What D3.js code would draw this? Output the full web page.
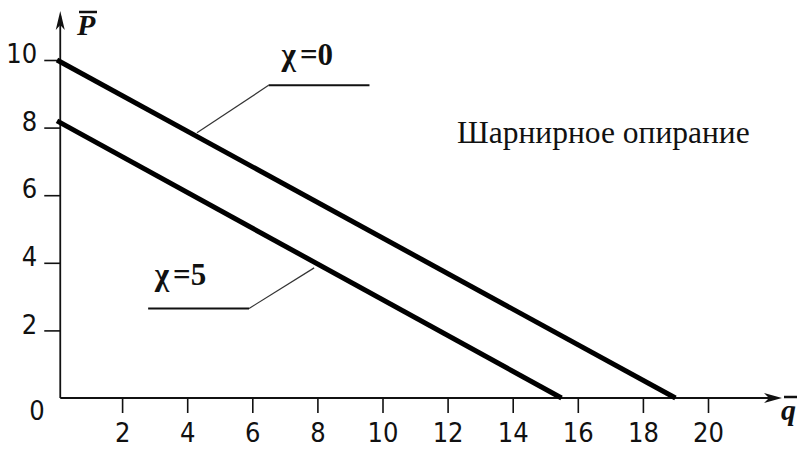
<!DOCTYPE html>
<html>
<head>
<meta charset="utf-8">
<script src="https://cdn.jsdelivr.net/npm/d3@7"></script>
<style>
  body { margin: 0; background: #fff; }
  .tick text { font-family: "Liberation Sans Narrow", "DejaVu Sans Condensed", sans-serif; font-size: 27px; fill: #111; }
</style>
</head>
<body>
<div class="chart"></div>
<script>
// curves P(q)
var chi0Q = [0, 19], chi0P = [10, 0];
var chi5Q = [0, 15.5], chi5P = [8.2, 0];

var xTicks = [2, 4, 6, 8, 10, 12, 14, 16, 18, 20];
var yTicks = [2, 4, 6, 8, 10];

// annotation leaders, in data units: [start, elbow, end]
var lead0Q = [4.3, 6.5, 9.6], lead0P = [7.85, 9.25, 9.25];
var lead5Q = [7.9, 5.9, 2.8], lead5P = [3.85, 2.65, 2.65];

var width = 808, height = 451;

var svg = d3.select(".chart")
    .append("svg")
    .attr("width", width)
    .attr("height", height);

var x = d3.scaleLinear().domain([0, 20]).range([57, 708]);
var y = d3.scaleLinear().domain([0, 10]).range([398, 60]);

// X axis
var xAxis = svg.append("g")
    .attr("transform", "translate(0," + y(0) + ")")
    .call(d3.axisBottom(x).tickValues(xTicks).tickSize(15).tickPadding(10));

// Y axis
var yAxis = svg.append("g")
    .attr("transform", "translate(" + x(0.1) + ",0)")
    .call(d3.axisLeft(y).tickValues(yTicks).tickSize(16).tickPadding(7));

xAxis.select(".domain").remove();
yAxis.select(".domain").remove();
xAxis.selectAll("line").style("stroke", "#111").style("stroke-width", 1.6);
yAxis.selectAll("line").style("stroke", "#111").style("stroke-width", 1.6);
yAxis.selectAll("text").attr("dy", "0.1em");

svg.append("text")
    .attr("x", 37).attr("y", 420)
    .attr("text-anchor", "middle")
    .style("font-family", "'Liberation Sans Narrow', 'DejaVu Sans Condensed', sans-serif")
    .style("font-size", "27px").style("fill", "#111")
    .text("0");

// axis lines with arrows
var x0 = x(0.1);
svg.append("line")
    .attr("x1", x0).attr("y1", y(0))
    .attr("x2", 778).attr("y2", y(0))
    .style("stroke", "#111").style("stroke-width", 1.8);
svg.append("line")
    .attr("x1", x0).attr("y1", y(0))
    .attr("x2", x0).attr("y2", 16)
    .style("stroke", "#111").style("stroke-width", 1.8);

svg.append("path")
    .attr("d", "M782," + y(0) + " L764," + (y(0) - 5) + " L769," + y(0) + " L764," + (y(0) + 5) + " Z")
    .style("fill", "#111");
svg.append("path")
    .attr("d", "M" + x0 + ",11 L" + (x0 - 4.5) + ",30 L" + x0 + ",25 L" + (x0 + 4.5) + ",30 Z")
    .style("fill", "#111");

// axis titles
function barLabel(tx, ty, s) {
    var t = svg.append("text")
        .attr("x", tx).attr("y", ty)
        .style("font-family", "'Liberation Serif', serif")
        .style("font-weight", "bold").style("font-style", "italic")
        .style("font-size", "30px").style("fill", "#111")
        .text(s);
    var b = t.node().getBBox();
    svg.append("line")
        .attr("x1", b.x + 3).attr("x2", b.x + b.width + 1)
        .attr("y1", ty - 23).attr("y2", ty - 23)
        .style("stroke", "#111").style("stroke-width", 2.5);
}
barLabel(77, 35, "P");
barLabel(781, 420, "q");

// curves
var line = d3.line()
    .x(function(d) { return x(d[0]); })
    .y(function(d) { return y(d[1]); });

[[chi0Q, chi0P], [chi5Q, chi5P]].forEach(function(s) {
    svg.append("path")
        .datum(d3.zip(s[0], s[1]))
        .attr("d", line)
        .style("fill", "none")
        .style("stroke", "#000")
        .style("stroke-width", 5);
});

// leaders
[[lead0Q, lead0P], [lead5Q, lead5P]].forEach(function(s) {
    var pts = d3.zip(s[0], s[1]);
    svg.append("path")
        .datum(pts.slice(0, 2))
        .attr("d", line)
        .style("fill", "none").style("stroke", "#333").style("stroke-width", 1.2);
    svg.append("path")
        .datum(pts.slice(1))
        .attr("d", line)
        .style("fill", "none").style("stroke", "#111").style("stroke-width", 2);
});

function chiLabel(q, p, v) {
    var t = svg.append("text")
        .attr("x", x(q)).attr("y", y(p))
        .style("font-family", "'Liberation Serif', serif")
        .style("font-weight", "bold")
        .style("font-size", "31px").style("fill", "#111");
    t.append("tspan").text("χ");
    t.append("tspan").attr("dx", 4).text("=" + v);
}
chiLabel(6.9, 9.85, "0");
chiLabel(3.0, 3.35, "5");

svg.append("text")
    .attr("x", 457).attr("y", 143)
    .style("font-family", "'Liberation Serif', serif")
    .style("font-size", "31.5px").style("fill", "#111")
    .text("Шарнирное опирание");
</script>
</body>
</html>
